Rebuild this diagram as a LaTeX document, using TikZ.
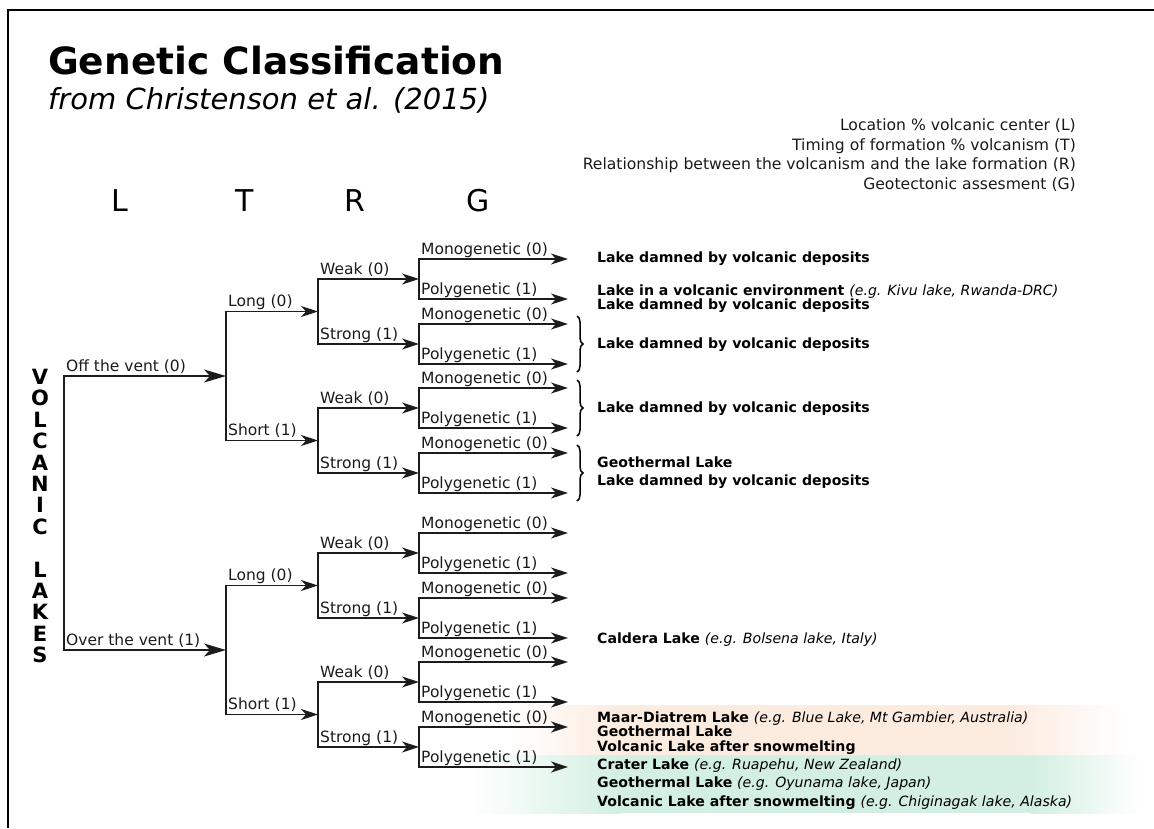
\documentclass[tikz,border=0pt]{standalone}
\usepackage{fontspec}
\setmainfont{DejaVu Sans}
\usetikzlibrary{calc,arrows.meta,decorations.pathreplacing}
\definecolor{peach}{HTML}{FCEBDF}
\definecolor{mint}{HTML}{D2EFE2}
\definecolor{linegray}{HTML}{1C1C1C}
\definecolor{textgray}{HTML}{1A1A1A}
\tikzset{
  branch/.style={line width=1.6pt, draw=linegray, <->},
  big tips/.style={>={Stealth[length=22pt,width=13pt,inset=6pt]}},
  lbl/.style={anchor=base west, xshift=2pt, yshift=5pt, inner sep=0pt, text=textgray, font=\fontsize{15.5}{18}\selectfont},
  res/.style={anchor=base west, inner sep=0pt, font=\bfseries\fontsize{14.1}{17}\selectfont},
  key/.style={anchor=base east, inner sep=0pt, text=textgray, font=\fontsize{15.6}{18}\selectfont},
  hdr/.style={inner sep=0pt, font=\fontsize{30}{36}\selectfont},
  curly/.style={decorate, decoration={brace,amplitude=6pt}, line width=1.5pt}
}
% fork: [style]{parent}{length}{half gap}{upper}{lower}{upper text}{lower text}
\newcommand\fork[8][]{%
  \coordinate (#5) at ($(#2)+(#3,-#4)$);
  \coordinate (#6) at ($(#2)+(#3,#4)$);
  \draw[branch,#1] (#5) -- (#2 |- #5) -- (#2 |- #6) -- (#6);
  \node[lbl] (#5txt) at (#2 |- #5) {#7};
  \node[lbl] (#6txt) at (#2 |- #6) {#8};
}

\begin{document}
\begin{tikzpicture}[x=1pt, y=-1pt, >={Stealth[length=17pt,width=11pt,inset=5pt]}]
			%%%%% START %%%%%
			\useasboundingbox (0,0) rectangle (1154,828);
			
			% colour bands
			\shade[left color=white, right color=peach] (510,705) rectangle (620,756);
			\fill[peach] (619,705) rectangle (1011,756);
			\shade[left color=peach, right color=white] (1010,705) rectangle (1125,756);
			\shade[left color=white, right color=mint] (470,755) rectangle (620,813);
			\fill[mint] (619,755) rectangle (1031,813);
			\shade[left color=mint, right color=white] (1030,755) rectangle (1142,813);
			
			\draw[line width=2.6pt] (8,828) -- (8,10) -- (1154,10);
			
			\node[anchor=base west, inner sep=0pt, font=\bfseries\fontsize{37.5}{44}\selectfont] (title) at (48,74) {Genetic Classification};
			\node[anchor=base west, inner sep=0pt, font=\itshape\fontsize{29}{34}\selectfont] (subtitle) at (48,109) {from Christenson et al. (2015)};
			
			\node[key] (keyL) at (1076,130.5) {Location \% volcanic center (L)};
			\node[key] (keyT) at (1076,150) {Timing of formation \% volcanism (T)};
			\node[key] (keyR) at (1076,169.5) {Relationship between the volcanism and the lake formation (R)};
			\node[key] (keyG) at (1076,189) {Geotectonic assesment (G)};
			
			\node[hdr] (hL) at (120,201) {L};
			\node[hdr] (hT) at (245,201) {T};
			\node[hdr] (hR) at (355,201) {R};
			\node[hdr] (hG) at (478,201) {G};
			
			\node[align=center, inner sep=0pt, font=\bfseries\fontsize{21}{21.4}\selectfont] (lakestxt) at (40,516) {V\\O\\L\\C\\A\\N\\I\\C\\[21.4pt]L\\A\\K\\E\\S};
			
			% tree
			\coordinate (lakes) at (64,513);
			\fork[big tips]{lakes}{162}{137}{off}{over}{Off the vent (0)}{Over the vent (1)}
			
			\fork{off}{92}{64.5}{offlong}{offshort}{Long (0)}{Short (1)}
			\fork{over}{92}{64.5}{overlong}{overshort}{Long (0)}{Short (1)}
			
			\fork{offlong}{101}{32.5}{offlongweak}{offlongstrong}{Weak (0)}{Strong (1)}
			\fork{offshort}{101}{32.5}{offshortweak}{offshortstrong}{Weak (0)}{Strong (1)}
			\fork{overlong}{101}{32.5}{overlongweak}{overlongstrong}{Weak (0)}{Strong (1)}
			\fork{overshort}{101}{32.5}{overshortweak}{overshortstrong}{Weak (0)}{Strong (1)}
			
			\fork{offlongweak}{149}{20}{offlongweakmono}{offlongweakpoly}{Monogenetic (0)}{Polygenetic (1)}
			\fork{offlongstrong}{149}{20}{offlongstrongmono}{offlongstrongpoly}{Monogenetic (0)}{Polygenetic (1)}
			\fork{offshortweak}{149}{20}{offshortweakmono}{offshortweakpoly}{Monogenetic (0)}{Polygenetic (1)}
			\fork{offshortstrong}{149}{20}{offshortstrongmono}{offshortstrongpoly}{Monogenetic (0)}{Polygenetic (1)}
			\fork{overlongweak}{149}{20}{overlongweakmono}{overlongweakpoly}{Monogenetic (0)}{Polygenetic (1)}
			\fork{overlongstrong}{149}{20}{overlongstrongmono}{overlongstrongpoly}{Monogenetic (0)}{Polygenetic (1)}
			\fork{overshortweak}{149}{20}{overshortweakmono}{overshortweakpoly}{Monogenetic (0)}{Polygenetic (1)}
			\fork{overshortstrong}{149}{20}{overshortstrongmono}{overshortstrongpoly}{Monogenetic (0)}{Polygenetic (1)}
			
			% braces
			\draw[curly] ($(offlongstrongmono)+(9,-8)$) -- ($(offlongstrongpoly)+(9,8)$);
			\draw[curly] ($(offshortweakmono)+(9,-8)$) -- ($(offshortweakpoly)+(9,8)$);
			\draw[curly] ($(offshortstrongmono)+(9,-8)$) -- ($(offshortstrongpoly)+(9,8)$);
			
			% lake types
			\node[res] (r1) at (597,262) {Lake damned by volcanic deposits};
			\node[res] (r2) at (597,295) {Lake in a volcanic environment {\mdseries\itshape (e.g. Kivu lake, Rwanda-DRC)}};
			\node[res] (r3) at (597,309) {Lake damned by volcanic deposits};
			\node[res] (r4) at (597,348) {Lake damned by volcanic deposits};
			\node[res] (r5) at (597,412) {Lake damned by volcanic deposits};
			\node[res] (r6) at (597,467) {Geothermal Lake};
			\node[res] (r7) at (597,485) {Lake damned by volcanic deposits};
			\node[res] (r8) at (597,643) {Caldera Lake {\mdseries\itshape (e.g. Bolsena lake, Italy)}};
			\node[res] (r9) at (597,722) {Maar-Diatrem Lake {\mdseries\itshape (e.g. Blue Lake, Mt Gambier, Australia)}};
			\node[res] (r10) at (597,736) {Geothermal Lake};
			\node[res] (r11) at (597,751) {Volcanic Lake after snowmelting};
			\node[res] (r12) at (597,769) {Crater Lake {\mdseries\itshape (e.g. Ruapehu, New Zealand)}};
			\node[res] (r13) at (597,787) {Geothermal Lake {\mdseries\itshape (e.g. Oyunama lake, Japan)}};
			\node[res] (r14) at (597,806) {Volcanic Lake after snowmelting {\mdseries\itshape (e.g. Chiginagak lake, Alaska)}};
			
			%%%%% END %%%%%
\end{tikzpicture}
\end{document}
